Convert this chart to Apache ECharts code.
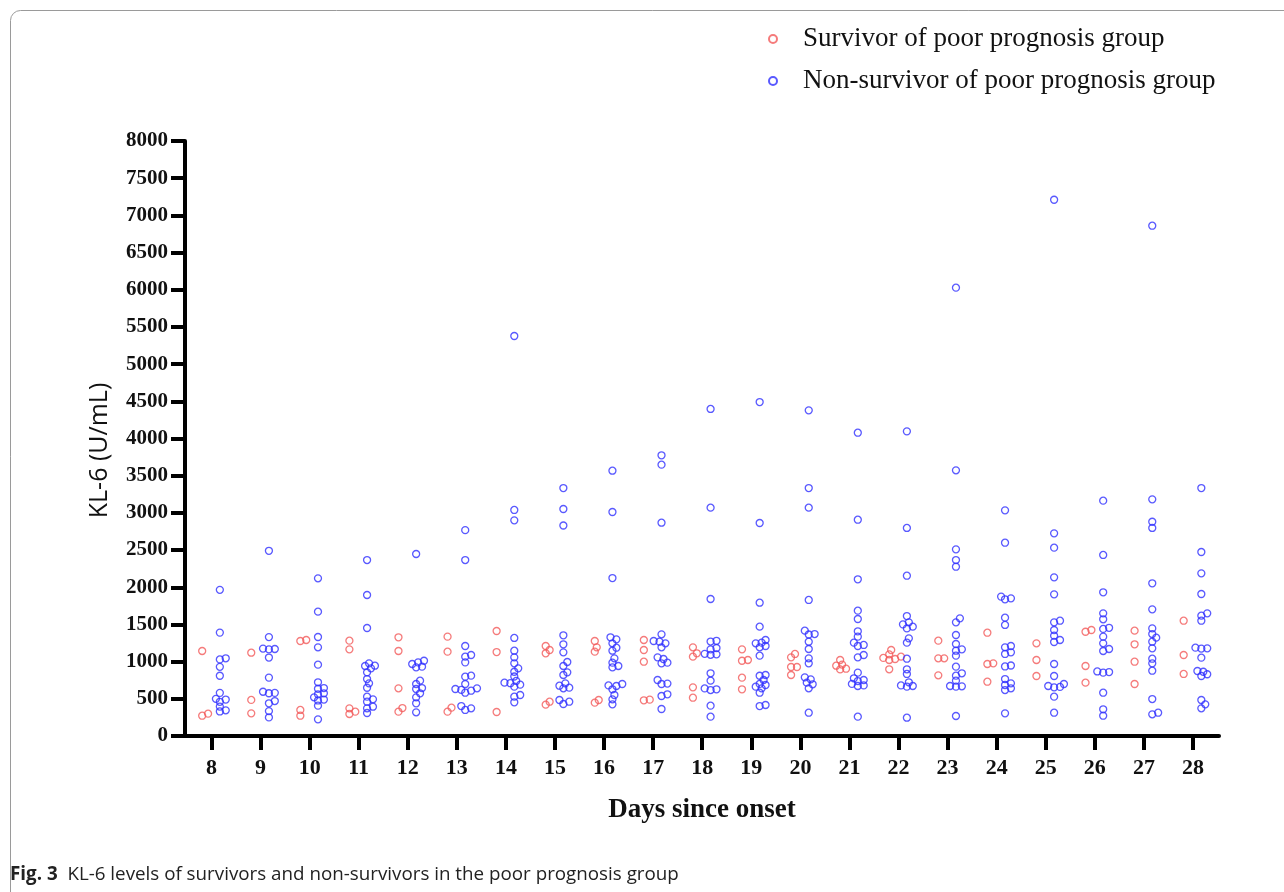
<!DOCTYPE html>
<html>
<head>
<meta charset="utf-8">
<script src="https://cdn.jsdelivr.net/npm/echarts@6/dist/echarts.min.js"></script>
<style>
html,body{margin:0;padding:0;background:#fff;}
#chart{width:1284px;height:892px;}
</style>
</head>
<body>
<div id="chart"></div>
<script>
// ---- data ----
const days = [8, 9, 10, 11, 12, 13, 14, 15, 16, 17, 18, 19, 20, 21, 22, 23, 24, 25, 26, 27, 28];
const yTicks = [0, 500, 1000, 1500, 2000, 2500, 3000, 3500, 4000, 4500, 5000, 5500, 6000, 6500, 7000, 7500, 8000];
const seriesNames = ['Survivor of poor prognosis group', 'Non-survivor of poor prognosis group'];

// KL-6 (U/mL) of survivors, one list per day (same order as days)
const survivorValues = [
  [1143, 273, 300],
  [1120, 485, 305],
  [1277, 1291, 273, 350],
  [1282, 1165, 372, 296, 327],
  [1327, 1143, 641, 327, 376],
  [1336, 1134, 327, 381],
  [1412, 1129, 323],
  [1210, 1156, 1112, 461, 421],
  [1277, 1192, 1134, 448, 484],
  [1291, 1156, 999, 480, 489],
  [1192, 1112, 1067, 654, 515],
  [1165, 1022, 1012, 784, 628],
  [1103, 1058, 928, 928, 820],
  [1022, 960, 945, 905, 895],
  [1156, 1098, 1067, 1050, 1035, 1022, 897],
  [1282, 1044, 1044, 816],
  [1389, 977, 968, 730],
  [1246, 1022, 807],
  [1402, 1425, 941, 717],
  [1416, 1233, 999, 699],
  [1550, 1089, 834]
];

// KL-6 (U/mL) of non-survivors, one list per day (same order as days)
const nonSurvivorValues = [
  [1965, 1390, 1045, 1030, 930, 810, 580, 500, 490, 460, 395, 345, 330],
  [2490, 1330, 1175, 1170, 1165, 1055, 785, 595, 580, 575, 470, 440, 335, 250],
  [2120, 1672, 1331, 1192, 959, 722, 645, 635, 574, 561, 520, 490, 478, 408, 224],
  [2366, 1896, 1452, 977, 945, 941, 910, 856, 766, 708, 649, 529, 493, 461, 394, 372, 309],
  [2447, 1012, 990, 968, 932, 923, 744, 699, 645, 632, 574, 520, 440, 318],
  [2768, 2366, 1210, 1089, 1067, 990, 811, 798, 699, 641, 632, 620, 609, 582, 403, 372, 350],
  [5378, 3039, 2900, 1318, 1147, 1058, 977, 910, 864, 800, 740, 717, 710, 690, 663, 551, 529, 453],
  [3334, 3052, 2830, 1354, 1233, 1125, 995, 941, 856, 820, 708, 676, 650, 641, 484, 461, 430],
  [3567, 3012, 2124, 1327, 1300, 1246, 1187, 1147, 1044, 986, 941, 923, 699, 680, 672, 628, 551, 493, 426],
  [3774, 3648, 2868, 1367, 1277, 1268, 1246, 1192, 1058, 1035, 986, 977, 753, 705, 699, 561, 538, 363],
  [4397, 3070, 1842, 1280, 1270, 1183, 1165, 1105, 1098, 1092, 843, 744, 640, 628, 618, 408, 260],
  [4490, 2864, 1792, 1470, 1291, 1255, 1246, 1210, 1192, 1080, 820, 810, 753, 700, 686, 663, 641, 582, 417, 403],
  [4379, 3334, 3070, 1829, 1416, 1371, 1365, 1268, 1170, 1044, 977, 789, 762, 717, 695, 641, 313],
  [4078, 2908, 2107, 1685, 1573, 1408, 1336, 1255, 1224, 1210, 1089, 1058, 852, 776, 753, 739, 700, 680, 672, 260],
  [4096, 2797, 2155, 1613, 1528, 1501, 1470, 1447, 1313, 1255, 1039, 897, 834, 722, 680, 672, 663, 246],
  [6028, 3572, 2510, 2366, 2276, 1582, 1528, 1358, 1237, 1165, 1147, 1080, 932, 843, 811, 744, 672, 668, 663, 269],
  [3034, 2599, 1874, 1851, 1838, 1591, 1493, 1210, 1192, 1125, 1103, 948, 935, 766, 708, 686, 641, 618, 305],
  [7210, 2725, 2532, 2133, 1905, 1550, 1528, 1425, 1349, 1291, 1264, 968, 807, 699, 672, 660, 654, 529, 313],
  [3164, 2434, 1932, 1649, 1569, 1455, 1440, 1336, 1246, 1170, 1143, 868, 860, 852, 582, 359, 273],
  [6861, 3182, 2881, 2797, 2053, 1703, 1447, 1371, 1322, 1268, 1179, 1039, 977, 878, 497, 313, 291],
  [3334, 2474, 2187, 1909, 1649, 1618, 1550, 1188, 1179, 1175, 1053, 874, 864, 830, 807, 484, 426, 372]
];

// ---- layout ----
const X_MIN = 7.46, X_MAX = 28.53;
const GRID = {left: 185, right: 65, top: 141, bottom: 156};
const plotW = 1284 - GRID.left - GRID.right;
const plotH = 892 - GRID.top - GRID.bottom;
const pxPerDay = plotW / (X_MAX - X_MIN);
const pxPerUnit = plotH / 8000;

// simple beeswarm placement so circles of a group spread sideways like the reference
function swarm(dayIdx, values, centerOffset) {
  const center = days[dayIdx] + centerOffset;
  const sorted = values.slice().sort((a, b) => a - b);
  const placed = [];
  const minDist = 4.6, step = 0.04;
  sorted.forEach(v => {
    for (let k = 0; k < 60; k++) {
      const s = k === 0 ? 0 : (k % 2 ? Math.ceil(k / 2) : -k / 2);
      const x = center + s * step;
      const ok = placed.every(p => {
        const dx = (p[0] - x) * pxPerDay, dy = (p[1] - v) * pxPerUnit;
        return dx * dx + dy * dy >= minDist * minDist;
      });
      if (ok) { placed.push([x, v]); break; }
    }
  });
  return placed;
}
const survivorPoints = [];
const nonSurvivorPoints = [];
days.forEach((d, i) => {
  swarm(i, survivorValues[i], -0.19).forEach(p => survivorPoints.push(p));
  swarm(i, nonSurvivorValues[i], 0.17).forEach(p => nonSurvivorPoints.push(p));
});

const RED = '#f25a5a', BLUE = '#2f2fff';
const serif = '"Liberation Serif", "Times New Roman", serif';
const sans = '"Open Sans", "Noto Sans", sans-serif';
const chart = echarts.init(document.getElementById('chart'));
chart.setOption({
  backgroundColor: '#fff',
  animation: false,
  grid: {left: GRID.left, right: GRID.right, top: GRID.top, bottom: GRID.bottom, containLabel: false},
  legend: {
    orient: 'vertical', left: 763, top: 19,
    itemWidth: 8, itemHeight: 8, itemGap: 12,
    textStyle: {fontFamily: serif, fontSize: 27, color: '#111', lineHeight: 30, padding: [0, 0, 0, 21]},
    data: seriesNames
  },
  xAxis: {
    type: 'value', min: X_MIN, max: X_MAX,
    name: 'Days since onset', nameLocation: 'middle', nameGap: 61,
    nameTextStyle: {fontFamily: serif, fontSize: 27, fontWeight: 'bold', color: '#111'},
    axisLine: {lineStyle: {color: '#000', width: 4}},
    axisTick: {show: true, length: 14, lineStyle: {color: '#000', width: 4}, customValues: days},
    axisLabel: {customValues: days, margin: 21, fontFamily: serif, fontSize: 22, fontWeight: 'bold', color: '#111'},
    splitLine: {show: false}
  },
  yAxis: {
    type: 'value', min: 0, max: 8000, interval: 500,
    name: 'KL-6 (U/mL)', nameLocation: 'middle', nameGap: 73, nameRotate: 90,
    nameTextStyle: {fontFamily: sans, fontSize: 25, color: '#111', padding: [0, 24, 0, 0]},
    axisLine: {show: true, lineStyle: {color: '#000', width: 4}},
    axisTick: {show: true, length: 14, lineStyle: {color: '#000', width: 4}, customValues: yTicks},
    axisLabel: {customValues: yTicks, margin: 17, fontFamily: serif, fontSize: 21, fontWeight: 'bold', color: '#111',
      formatter: v => String(v)},
    splitLine: {show: false}
  },
  series: [
    {
      name: seriesNames[0], type: 'scatter', data: survivorPoints,
      symbol: 'circle', symbolSize: 7,
      itemStyle: {color: 'rgba(255,255,255,0)', borderColor: RED, borderWidth: 1.3}
    },
    {
      name: seriesNames[1], type: 'scatter', data: nonSurvivorPoints,
      symbol: 'circle', symbolSize: 7,
      itemStyle: {color: 'rgba(255,255,255,0)', borderColor: BLUE, borderWidth: 1.3}
    }
  ],
  graphic: [
    {
      type: 'rect', silent: true, z: -1,
      shape: {x: 10.5, y: 10.5, width: 1300, height: 900, r: 10},
      style: {fill: 'none', stroke: '#9a9a9a', lineWidth: 1}
    },
    {
      type: 'text', left: 10, top: 865,
      style: {
        text: '{b|Fig. 3}  KL-6 levels of survivors and non-survivors in the poor prognosis group',
        fontFamily: sans, fontSize: 18.8, fill: '#222',
        rich: {b: {fontFamily: sans, fontSize: 18.8, fontWeight: 'bold', fill: '#222'}}
      }
    }
  ]
});
</script>
</body>
</html>
